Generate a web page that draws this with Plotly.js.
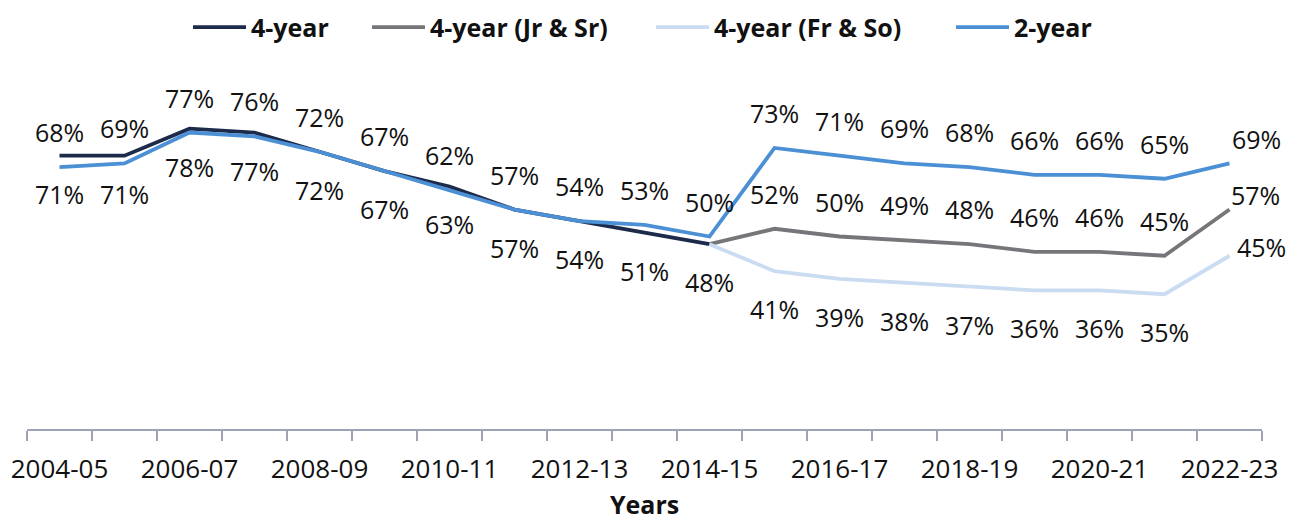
<!DOCTYPE html>
<html>
<head>
<meta charset="utf-8">
<script src="https://cdn.plot.ly/plotly-3.0.1.min.js"></script>
<style>
  html, body { margin: 0; padding: 0; background: #fff; }
  #chart { width: 1299px; height: 522px; }
</style>
</head>
<body>
<div id="chart"></div>
<script>
// ---- Data ----
const years = ['2004-05','2005-06','2006-07','2007-08','2008-09','2009-10','2010-11','2011-12',
  '2012-13','2013-14','2014-15','2015-16','2016-17','2017-18','2018-19','2019-20','2020-21',
  '2021-22','2022-23'];
const fourYear   = [71, 71, 78, 77, 72, 67, 63, 57, 54, 51, 48, null, null, null, null, null, null, null, null];
const fourYearJrSr = [null, null, null, null, null, null, null, null, null, null, 48, 52, 50, 49, 48, 46, 46, 45, 57];
const fourYearFrSo = [null, null, null, null, null, null, null, null, null, null, 48, 41, 39, 38, 37, 36, 36, 35, 45];
const twoYear    = [68, 69, 77, 76, 72, 67, 62, 57, 54, 53, 50, 73, 71, 69, 68, 66, 66, 65, 69];
const seriesNames = ['4-year', '4-year (Jr & Sr)', '4-year (Fr & So)', '2-year'];
const xTitle = 'Years';

// ---- Styling ----
const FONT = 'Open Sans, Noto Sans, sans-serif';
const colors = ['#1c2b4a', '#76767a', '#cadcf2', '#4b8fd5'];
const xIdx = years.map((_, i) => i);

const seriesData = [fourYear, fourYearJrSr, fourYearFrSo, twoYear];
const legendIds = ['legend', 'legend2', 'legend3', 'legend4'];

const traces = seriesData.map((vals, k) => ({
  type: 'scatter',
  mode: 'lines',
  x: xIdx,
  y: vals,
  name: seriesNames[k],
  legend: legendIds[k],
  line: { color: colors[k], width: 3.8 },
  connectgaps: false,
  hoverinfo: 'skip'
}));

// Data labels
const annotations = [];
function addLabels(vals, dir, startIdx, lastShift) {
  vals.forEach((v, i) => {
    if (v === null || i < startIdx) return;
    let xs = 0, ys = dir > 0 ? 35 : -38;
    if (i === vals.length - 1 && lastShift) { xs = lastShift[0]; ys = lastShift[1]; }
    annotations.push({
      x: i, y: v, xref: 'x', yref: 'y',
      text: v + '%', showarrow: false,
      xanchor: 'center', yanchor: 'middle',
      xshift: xs, yshift: ys,
      font: { family: FONT, size: 25, color: '#111' }
    });
  });
}
addLabels(fourYear, -1, 0, null);
addLabels(twoYear, 1, 0, [27, 24]);
addLabels(fourYearJrSr, 1, 11, [26, 15]);
addLabels(fourYearFrSo, -1, 11, [32, 9]);

const tickIdx = xIdx.filter(i => i % 2 === 0);
const boundaries = years.map((_, i) => i - 0.5).concat([years.length - 0.5]);

const L = 27, R = 37, T = 44, B = 93;
const plotW = 1299 - L - R;
const plotH = 522 - T - B;
const legendYpaper = (522 - B - 27.3) / plotH;
const legendLineStarts = [198, 377, 661, 961];

// x-axis title (placed as paper annotation for exact position below tick labels)
annotations.push({
  xref: 'paper', yref: 'paper', x: 0.5, y: (522 - B - 504) / plotH,
  xanchor: 'center', yanchor: 'middle', showarrow: false,
  text: xTitle,
  font: { family: FONT, size: 25, weight: 'bold', color: '#111' }
});

const layout = {
  width: 1299, height: 522,
  margin: { l: L, r: R, t: T, b: B, pad: 0, autoexpand: false },
  paper_bgcolor: '#fff', plot_bgcolor: '#fff',
  font: { family: FONT, color: '#000' },
  showlegend: true,
  xaxis: {
    range: [-0.5, years.length - 0.5],
    tickmode: 'array',
    tickvals: tickIdx,
    ticktext: tickIdx.map(i => years[i]),
    ticks: 'outside', ticklen: 16, tickcolor: 'rgba(0,0,0,0)',
    tickfont: { family: FONT, size: 26, color: '#111' },
    showline: true, linecolor: '#a0a3b4', linewidth: 1.5,
    showgrid: false, zeroline: false,
    minor: {
      tickmode: 'array', tickvals: boundaries,
      ticks: 'outside', ticklen: 10, tickwidth: 1.5, tickcolor: '#a0a3b4',
      showgrid: false
    },
    automargin: false,
    fixedrange: true
  },
  yaxis: {
    range: [0, 100],
    visible: false, showgrid: false, zeroline: false, fixedrange: true
  },
  annotations: annotations
};

legendIds.forEach((id, k) => {
  layout[id] = {
    orientation: 'h',
    x: (legendLineStarts[k] - 10 - L) / plotW,
    xanchor: 'left',
    y: legendYpaper, yanchor: 'middle',
    font: { family: FONT, size: 25, weight: 'bold', color: '#111' },
    itemwidth: 53,
    bgcolor: 'rgba(0,0,0,0)', borderwidth: 0
  };
});

Plotly.newPlot('chart', traces, layout, { displayModeBar: false, staticPlot: true });
</script>
</body>
</html>
